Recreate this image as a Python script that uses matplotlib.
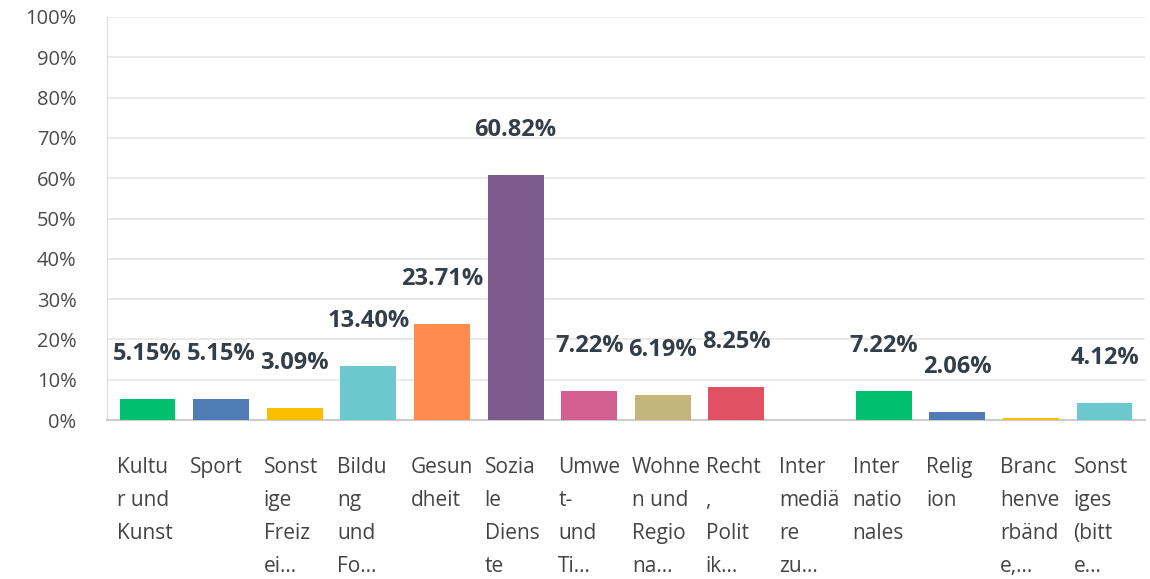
import numpy as np
import matplotlib.pyplot as plt
import matplotlib.transforms as mtransforms

# answer categories (as wrapped/truncated in the source chart)
categories = [
    "Kultu\nr und\nKunst",
    "Sport",
    "Sonst\nige\nFreiz\nei...",
    "Bildu\nng\nund\nFo...",
    "Gesun\ndheit",
    "Sozia\nle\nDiens\nte",
    "Umwe\nt-\nund\nTi...",
    "Wohne\nn und\nRegio\nna...",
    "Recht\n,\nPolit\nik...",
    "Inter\nmediä\nre\nzu...",
    "Inter\nnatio\nnales",
    "Relig\nion",
    "Branc\nhenve\nrbänd\ne,...",
    "Sonst\niges\n(bitt\ne...",
]
values = [5.15, 5.15, 3.09, 13.40, 23.71, 60.82, 7.22, 6.19, 8.25, 0.0, 7.22, 2.06, 0.6, 4.12]
value_labels = ["5.15%", "5.15%", "3.09%", "13.40%", "23.71%", "60.82%", "7.22%",
                "6.19%", "8.25%", "", "7.22%", "2.06%", "", "4.12%"]
colors = ["#00BF6F", "#507CB6", "#F9BE00", "#6BC8CD", "#FF8B4F", "#7D5B8C", "#D25F90",
          "#C4B57A", "#E05263", "#A0A0A0", "#00BF6F", "#507CB6", "#F9BE00", "#6BC8CD"]

plt.rcParams["font.family"] = ["Open Sans", "DejaVu Sans"]

fig = plt.figure(figsize=(11.5, 5.79), dpi=100)
ax = fig.add_axes([107 / 1150, 1 - 420 / 579, 1038 / 1150, 403 / 579])

x = np.arange(len(values))
ax.bar(x, values, width=0.76, color=colors, zorder=3)

ax.set_xlim(-0.55, len(values) - 0.45)
ax.set_ylim(0, 100)
ax.set_yticks(np.arange(0, 101, 10))
ax.set_yticklabels([f"{v}%" for v in range(0, 101, 10)], fontsize=14.5, color="#4a4a4a")
ax.tick_params(axis="y", length=0, pad=22)
ax.set_xticks([])
ax.grid(axis="y", color="#e6e6e6", linewidth=1.2, zorder=0)

for side in ["top", "right"]:
    ax.spines[side].set_visible(False)
ax.spines["left"].set_color("#dddddd")
ax.spines["bottom"].set_color("#cccccc")
ax.spines["bottom"].set_linewidth(1.5)

# value labels above the bars
for xi, v, lab in zip(x, values, value_labels):
    if lab:
        ax.annotate(lab, (xi, v), xytext=(0, 45), textcoords="offset pixels",
                    ha="center", va="center", fontsize=17, fontweight="bold",
                    color="#333e48", zorder=4)

# wrapped category labels below the axis
trans = mtransforms.blended_transform_factory(ax.transData, ax.transAxes)
for xi, cat in zip(x, categories):
    ax.text(xi - 0.42, -0.093, cat, transform=trans, ha="left", va="top",
            fontsize=15, color="#444444", linespacing=1.75)

fig.savefig("out.png", dpi=100)
